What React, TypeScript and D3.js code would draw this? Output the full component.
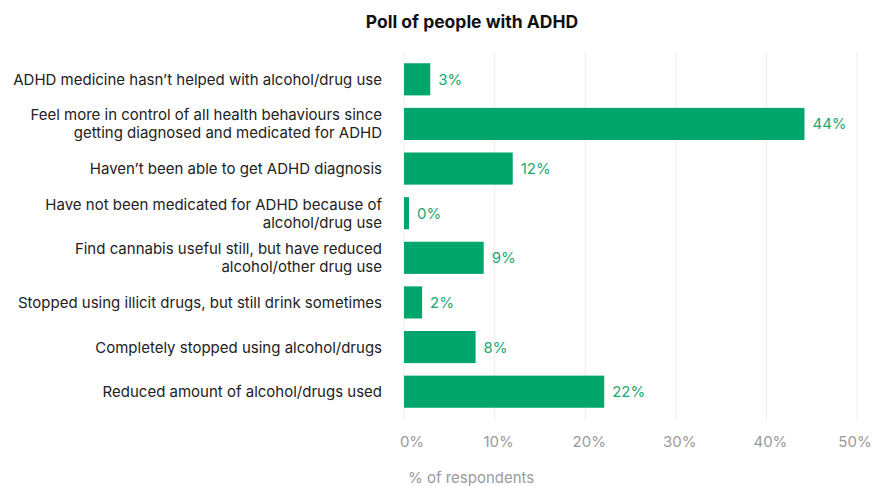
import React from "react";
import * as d3 from "d3";

const categories: string[][] = [
  ["ADHD medicine hasn’t helped with alcohol/drug use"],
  ["Feel more in control of all health behaviours since", "getting diagnosed and medicated for ADHD"],
  ["Haven’t been able to get ADHD diagnosis"],
  ["Have not been medicated for ADHD because of", "alcohol/drug use"],
  ["Find cannabis useful still, but have reduced", "alcohol/other drug use"],
  ["Stopped using illicit drugs, but still drink sometimes"],
  ["Completely stopped using alcohol/drugs"],
  ["Reduced amount of alcohol/drugs used"],
];
const values: number[] = [2.9, 44.2, 12.0, 0.55, 8.8, 2.0, 7.9, 22.1];
const valueLabels: string[] = ["3%", "44%", "12%", "0%", "9%", "2%", "8%", "22%"];
const ticks: number[] = [0, 10, 20, 30, 40, 50];
const title = "Poll of people with ADHD";
const axisTitle = "% of respondents";

const W = 874;
const H = 486;
const FONT = "Inter, 'Noto Sans', sans-serif";

export default function App() {
  const x = d3.scaleLinear().domain([0, 50]).range([404, 857]);
  const y = d3
    .scaleBand<number>()
    .domain(d3.range(categories.length))
    .range([57, 414])
    .paddingInner(0.28)
    .paddingOuter(0.14);
  const green = "#00a66c";
  return (
    <svg width={W} height={H} style={{ position: "absolute", left: 0, top: 0, fontFamily: FONT }}>
      <text x={472} y={28} textAnchor="middle" fontSize={17.5} fontWeight={700} fill="#111">
        {title}
      </text>
      {ticks.map((t) => (
        <line key={"g" + t} x1={x(t)} x2={x(t)} y1={52} y2={421} stroke="#eeeeee" strokeWidth={1} />
      ))}
      {ticks.map((t, i) => (
        <text
          key={"t" + t}
          x={x(t) + (i === 0 ? 8 : i === ticks.length - 1 ? -2 : 4)}
          y={447}
          textAnchor="middle"
          fontSize={15}
          fill="#9a9a9a"
        >
          {t}%
        </text>
      ))}
      <text x={408} y={483} fontSize={15} fill="#9a9a9a">
        {axisTitle}
      </text>
      {values.map((v, i) => {
        const yy = y(i)!;
        const bw = y.bandwidth();
        const lines = categories[i];
        const cy = yy + bw / 2;
        return (
          <g key={i}>
            <rect x={x(0)} y={yy} width={x(v) - x(0)} height={bw} fill={green} />
            <text x={x(v) + 8} y={cy + 5.5} fontSize={15} fill="#1aa873">
              {valueLabels[i]}
            </text>
            {lines.map((l, j) => (
              <text
                key={j}
                x={382}
                y={cy + 5.5 + (j - (lines.length - 1) / 2) * 18}
                textAnchor="end"
                fontSize={15}
                fill="#222"
              >
                {l}
              </text>
            ))}
          </g>
        );
      })}
    </svg>
  );
}
